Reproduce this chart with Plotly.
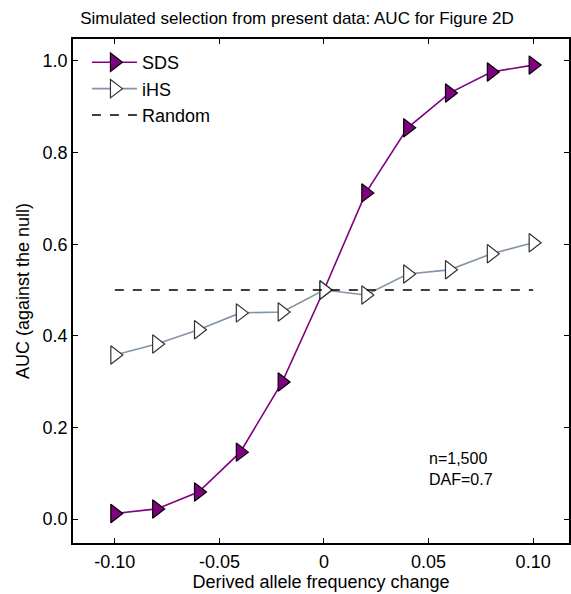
import plotly.graph_objects as go

# Data
x_vals = [-0.10, -0.08, -0.06, -0.04, -0.02, 0.0, 0.02, 0.04, 0.06, 0.08, 0.10]
sds = [0.012, 0.022, 0.059, 0.146, 0.299, 0.500, 0.712, 0.854, 0.930, 0.976, 0.991]
ihs = [0.358, 0.382, 0.413, 0.450, 0.452, 0.500, 0.489, 0.535, 0.544, 0.579, 0.603]
random_x = [-0.10, 0.10]
random_y = [0.5, 0.5]
x_ticks = [-0.10, -0.05, 0.0, 0.05, 0.10]
x_ticklabels = ["-0.10", "-0.05", "0", "0.05", "0.10"]
y_ticks = [0.0, 0.2, 0.4, 0.6, 0.8, 1.0]
y_ticklabels = ["0.0", "0.2", "0.4", "0.6", "0.8", "1.0"]
note_lines = ["n=1,500", "DAF=0.7"]

FONT = "Liberation Sans, Arial, Helvetica, sans-serif"

fig = go.Figure()
fig.add_trace(go.Scatter(
    x=x_vals, y=sds, mode="lines+markers", name="SDS",
    line=dict(color="#800080", width=1.6),
    marker=dict(symbol="triangle-right", size=16, color="#800080",
                line=dict(color="#000000", width=1.2)),
))
fig.add_trace(go.Scatter(
    x=x_vals, y=ihs, mode="lines+markers", name="iHS",
    line=dict(color="#8494a8", width=1.6),
    marker=dict(symbol="triangle-right", size=16, color="#ffffff",
                line=dict(color="#333333", width=1.2)),
))
fig.add_trace(go.Scatter(
    x=random_x, y=random_y, mode="lines", name="Random",
    line=dict(color="#000000", width=1.6, dash="9px,9px"),
))

fig.add_annotation(
    x=(429 - 73) / 498, y=(543 - 469) / 504,
    xref="paper", yref="paper",
    text="<br>".join(note_lines), showarrow=False, align="left",
    xanchor="left", yanchor="middle", borderpad=0,
    font=dict(family=FONT, size=16, color="#000"),
)

fig.update_layout(
    width=571, height=594,
    margin=dict(l=73, r=0, t=39, b=51),
    paper_bgcolor="white", plot_bgcolor="white",
    font=dict(family=FONT, size=18, color="#000"),
    title=dict(text="Simulated selection from present data: AUC for Figure 2D",
               font=dict(family=FONT, size=17, color="#000"),
               x=297 / 571, xanchor="center", xref="container",
               y=1 - 18.5 / 594, yanchor="middle", yref="container"),
    showlegend=True,
    legend=dict(x=(87 - 73) / 498, y=0.99, xanchor="left", yanchor="top",
                bgcolor="rgba(0,0,0,0)", itemwidth=45,
                font=dict(family=FONT, size=18, color="#000")),
)
fig.update_xaxes(
    range=[-0.12, -0.12 + 498 / 2100],
    tickvals=x_ticks, ticktext=x_ticklabels,
    ticks="inside", ticklen=5, tickwidth=1.2, tickcolor="#000",
    showline=True, linecolor="#000", linewidth=1.6, mirror="ticks",
    showgrid=False, zeroline=False, ticklabelstandoff=2,
    tickfont=dict(family=FONT, size=18, color="#000"),
    title=dict(text="Derived allele frequency change", standoff=4,
               font=dict(family=FONT, size=18, color="#000")),
)
fig.update_yaxes(
    range=[-0.0524, 1.048],
    tickvals=y_ticks, ticktext=y_ticklabels,
    ticks="inside", ticklen=5, tickwidth=1.2, tickcolor="#000",
    showline=True, linecolor="#000", linewidth=1.6, mirror="ticks",
    showgrid=False, zeroline=False,
    tickfont=dict(family=FONT, size=18, color="#000"),
    title=dict(text="AUC (against the null)", standoff=8,
               font=dict(family=FONT, size=18, color="#000")),
)

fig.write_html("out.html")
